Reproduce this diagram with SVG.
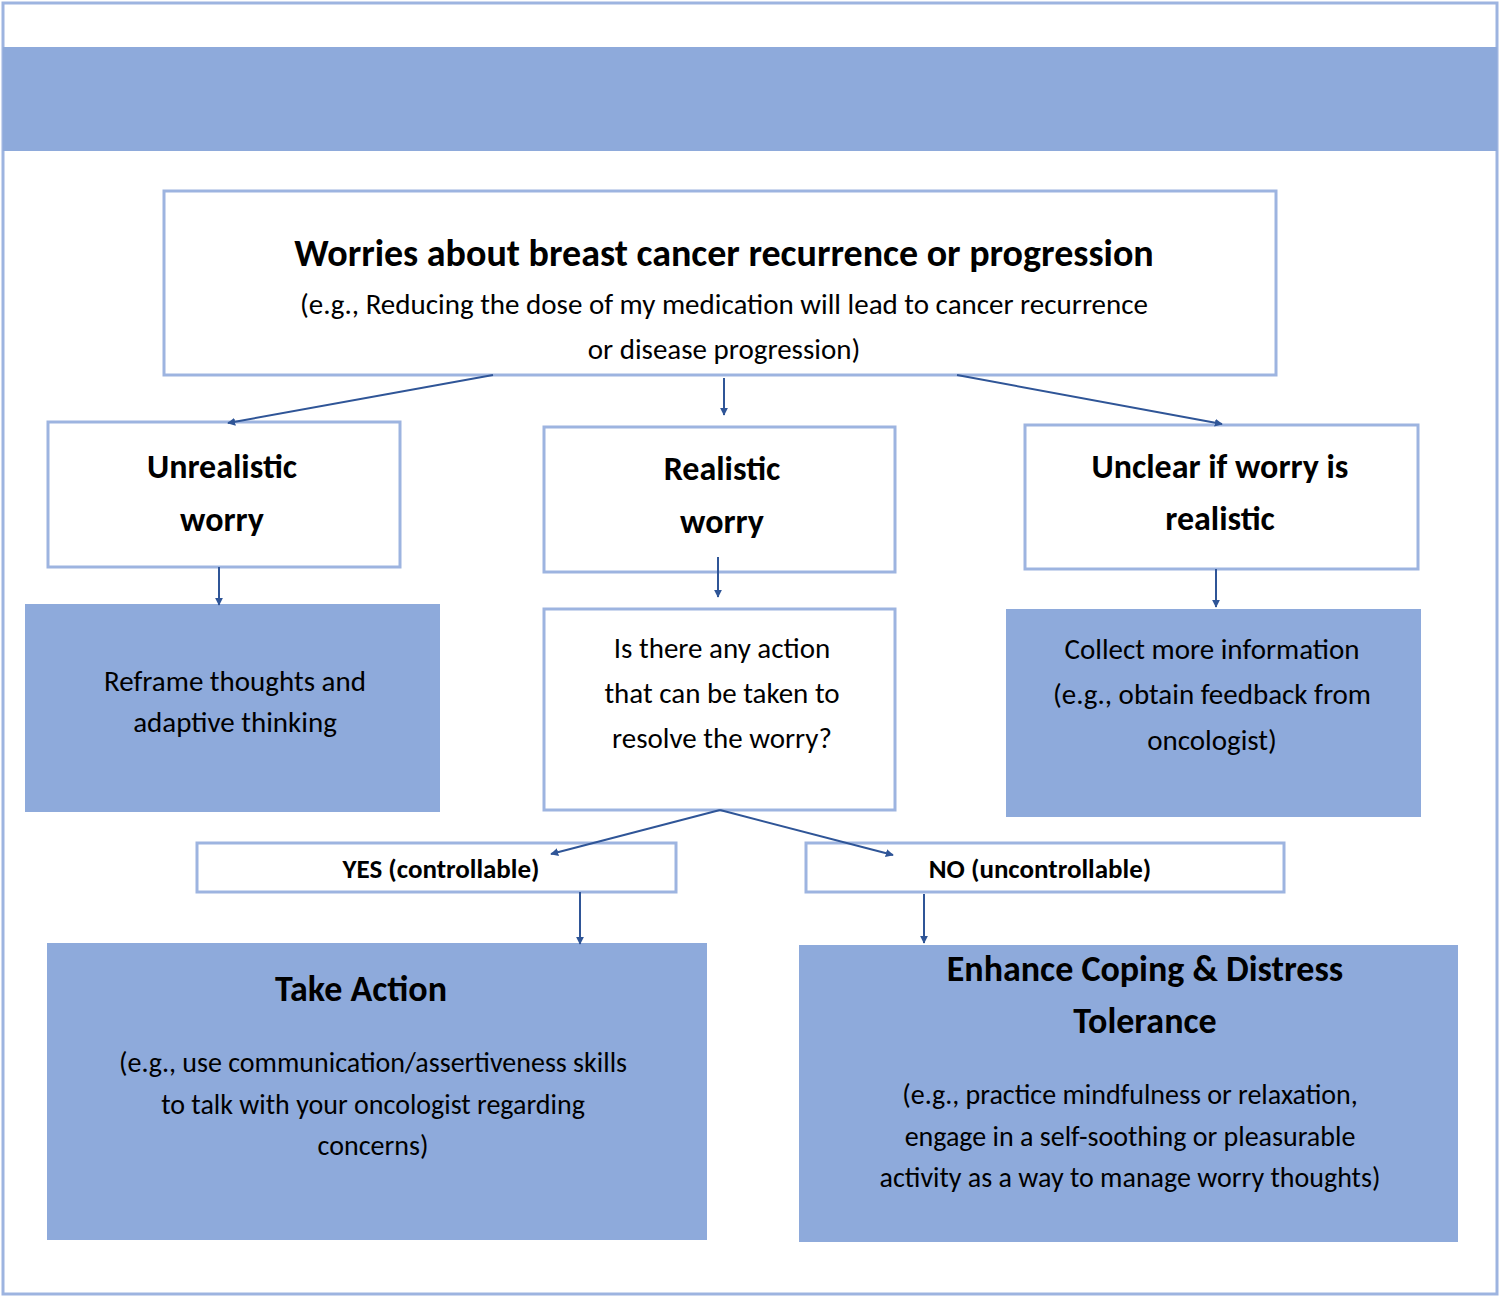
<svg xmlns="http://www.w3.org/2000/svg" width="1500" height="1297" viewBox="0 0 1500 1297">
<defs>
<style>
text{font-family:Carlito,Lato,"Open Sans",sans-serif;fill:#000;text-anchor:middle}
.box{fill:#fff;stroke:#9db4e0;stroke-width:3}
.fill{fill:#8eaadb;stroke:#8eaadb;stroke-width:2}
.b{font-weight:bold}
.con line{stroke:#2f5597;stroke-width:2;marker-end:url(#a)}
</style>
<marker id="a" viewBox="0 0 10 10" refX="9" refY="5" markerWidth="8" markerHeight="8" markerUnits="userSpaceOnUse" orient="auto"><path d="M0,0L10,5L0,10z" fill="#2f5597"/></marker>
</defs>
<rect x="0" y="0" width="1500" height="1297" fill="#fff"/>
<rect x="3" y="3" width="1494" height="1291" fill="none" stroke="#9db4e0" stroke-width="3"/>
<rect x="3" y="47" width="1494" height="104" fill="#8eaadb"/>
<g id="top"><rect class="box" x="164" y="191" width="1112" height="184"/>
<text class="b" x="724" y="266" font-size="38">Worries about breast cancer recurrence or progression</text>
<text x="724" y="314" font-size="29">(e.g., Reducing the dose of my medication will lead to cancer recurrence</text>
<text x="724" y="359" font-size="29">or disease progression)</text></g>
<g id="unreal"><rect class="box" x="48" y="422" width="352" height="145"/>
<text class="b" x="222" y="478" font-size="34">Unrealistic</text><text class="b" x="222" y="531" font-size="34">worry</text></g>
<g id="real"><rect class="box" x="544" y="427" width="351" height="145"/>
<text class="b" x="722" y="480" font-size="34">Realistic</text><text class="b" x="722" y="533" font-size="34">worry</text></g>
<g id="unclear"><rect class="box" x="1025" y="425" width="393" height="144"/>
<text class="b" x="1220" y="478" font-size="34">Unclear if worry is</text><text class="b" x="1220" y="530" font-size="34">realistic</text></g>
<g id="reframe"><rect class="fill" x="26" y="605" width="413" height="206"/>
<text x="235" y="691" font-size="29">Reframe thoughts and</text><text x="235" y="732" font-size="29">adaptive thinking</text></g>
<g id="question"><rect class="box" x="544" y="609" width="351" height="201"/>
<text x="722" y="658" font-size="29">Is there any action</text><text x="722" y="703" font-size="29">that can be taken to</text><text x="722" y="748" font-size="29">resolve the worry?</text></g>
<g id="collect"><rect class="fill" x="1007" y="610" width="413" height="206"/>
<text x="1212" y="659" font-size="29">Collect more information</text><text x="1212" y="704" font-size="29">(e.g., obtain feedback from</text><text x="1212" y="750" font-size="29">oncologist)</text></g>
<g id="yes"><rect class="box" x="197" y="843" width="479" height="49"/>
<text class="b" x="441" y="878" font-size="27">YES (controllable)</text></g>
<g id="no"><rect class="box" x="806" y="843" width="478" height="49"/>
<text class="b" x="1040" y="878" font-size="27">NO (uncontrollable)</text></g>
<g id="action"><rect class="fill" x="48" y="944" width="658" height="295"/>
<text class="b" x="361" y="1001" font-size="36">Take Action</text>
<text x="373" y="1072" font-size="28">(e.g., use communication/assertiveness skills</text>
<text x="373" y="1114" font-size="28">to talk with your oncologist regarding</text>
<text x="373" y="1155" font-size="28">concerns)</text></g>
<g id="cope"><rect class="fill" x="800" y="946" width="657" height="295"/>
<text class="b" x="1145" y="981" font-size="36">Enhance Coping &amp; Distress</text>
<text class="b" x="1145" y="1033" font-size="36">Tolerance</text>
<text x="1130" y="1104" font-size="28">(e.g., practice mindfulness or relaxation,</text>
<text x="1130" y="1146" font-size="28">engage in a self-soothing or pleasurable</text>
<text x="1130" y="1187" font-size="28">activity as a way to manage worry thoughts)</text></g>
<g class="con" id="connectors">
<line x1="493" y1="375" x2="228" y2="423"/>
<line x1="724" y1="378" x2="724" y2="415"/>
<line x1="957" y1="375" x2="1222" y2="424"/>
<line x1="219" y1="567" x2="219" y2="605"/>
<line x1="718" y1="557" x2="718" y2="597"/>
<line x1="1216" y1="569" x2="1216" y2="607"/>
<line x1="720" y1="810" x2="551" y2="854"/>
<line x1="720" y1="810" x2="893" y2="855"/>
<line x1="580" y1="892" x2="580" y2="944"/>
<line x1="924" y1="894" x2="924" y2="943"/>
</g>
</svg>
